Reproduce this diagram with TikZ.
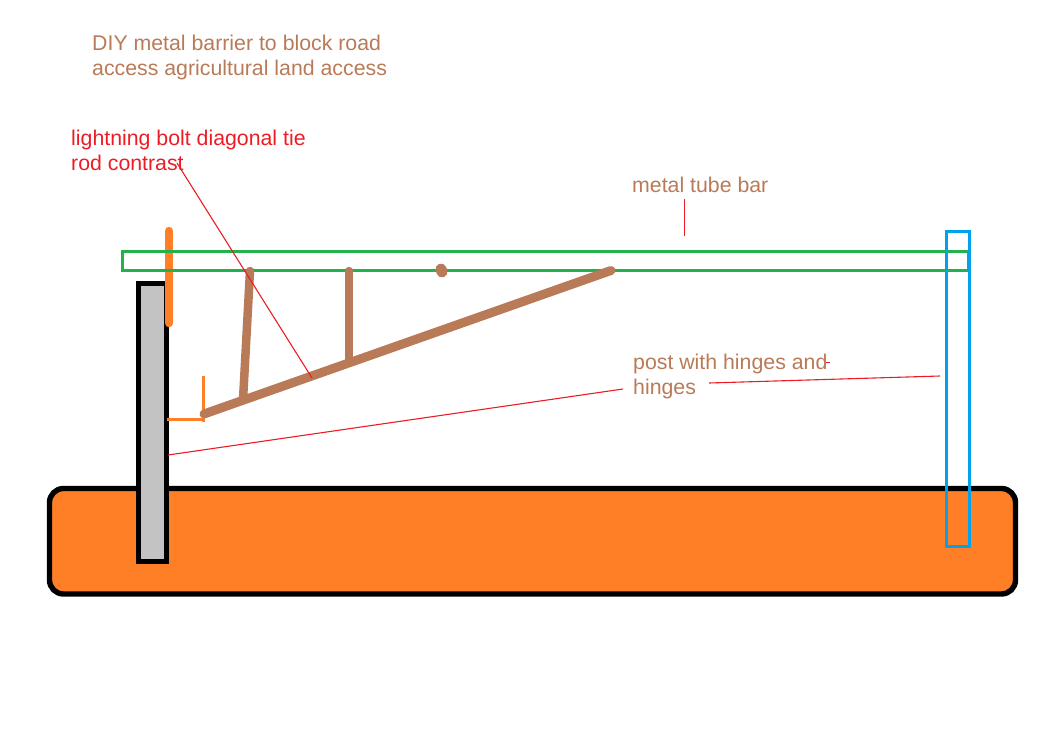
\documentclass[tikz,border=0pt]{standalone}
\usepackage{fontspec}
\setmainfont{Liberation Sans}
\definecolor{ptbrown}{HTML}{B97A57}
\definecolor{ptorange}{HTML}{FF7F27}
\definecolor{ptgreen}{HTML}{22B14C}
\definecolor{ptblue}{HTML}{00A2E8}
\definecolor{ptred}{HTML}{ED1C24}
\definecolor{ptgrey}{HTML}{C3C3C3}
\tikzset{
  label text/.style={anchor=north west,inner sep=0pt,align=left,font=\fontsize{21.3pt}{25pt}\selectfont},
  brown note/.style={label text,text=ptbrown},
  red note/.style={label text,text=ptred},
  leader/.style={draw=ptred,line width=1.1pt},
  solidbox/.style={draw=black,line width=5.4pt},
  rod/.style={draw=ptbrown,line width=8.5pt,line cap=round},
  thin orange/.style={draw=ptorange,line width=3pt},
}
\begin{document}
\begin{tikzpicture}[x=1pt,y=-1pt]
\useasboundingbox (0,0) rectangle (1047,750);
% ground
\draw[solidbox,fill=ptorange,rounded corners=14pt] (49.5,488.5) rectangle (1015.5,594);
% gate post
\node[solidbox,fill=ptgrey,minimum width=28pt,minimum height=278pt,inner sep=0pt,outer sep=0pt] (post) at (152.5,422.5) {};
% hinges
\coordinate (hA) at (169,231);
\coordinate (hB) at (169,323);
\draw[draw=ptorange,line width=8.5pt,line cap=round] (hA) -- (hB);
% tube bar
\node[draw=ptgreen,line width=3pt,minimum width=846pt,minimum height=19pt,inner sep=0pt,outer sep=0pt] (bar) at (545.5,260.5) {};
% far post
\node[draw=ptblue,line width=3pt,minimum width=23pt,minimum height=315pt,inner sep=0pt,outer sep=0pt] (farpost) at (958,389) {};
% bracket
\coordinate (bA) at (167,419.5);
\coordinate (bB) at (204,419.5);
\coordinate (bC) at (203.5,376);
\coordinate (bD) at (203.5,421.5);
\draw[thin orange] (bA) -- (bB);
\draw[thin orange] (bC) -- (bD);
% tie rods
\coordinate (t0) at (204,414);
\coordinate (t1) at (611,270.5);
\coordinate (v1a) at (250,271);
\coordinate (v1b) at (243,400);
\coordinate (v2a) at (349,271);
\coordinate (v2b) at (349,360);
\draw[rod,line width=9pt] (t0) -- (t1);
\draw[rod] (v1a) -- (v1b);
\draw[rod] (v2a) -- (v2b);
\coordinate (dotA) at (441,269);
\coordinate (dotB) at (442,272);
\draw[rod,line width=11pt] (dotA) -- (dotB);
% texts
\node[brown note] (title) at (92,35) {DIY metal barrier to block road\\access agricultural land access};
\node[red note] (tie) at (71,130) {lightning bolt diagonal tie\\rod contrast};
\node[brown note] (tube) at (632,177) {metal tube bar};
\node[brown note] (hinge) at (633,354) {post with hinges and\\hinges};
% leaders
\coordinate (l1a) at (177,163);
\coordinate (l1b) at (312,378);
\draw[leader] (l1a) -- (l1b);
\coordinate (l2a) at (684.5,199);
\coordinate (l2b) at (684.5,236);
\draw[leader] (l2a) -- (l2b);
\coordinate (l3a) at (623,389);
\coordinate (l3b) at (168,455);
\draw[leader] (l3a) -- (l3b);
\coordinate (l4a) at (709,383);
\coordinate (l4b) at (940,376);
\draw[leader] (l4a) -- (l4b);
\coordinate (l5a) at (826,362.5);
\coordinate (l5b) at (829.5,362.5);
\draw[leader] (l5a) -- (l5b);
\end{tikzpicture}
\end{document}
